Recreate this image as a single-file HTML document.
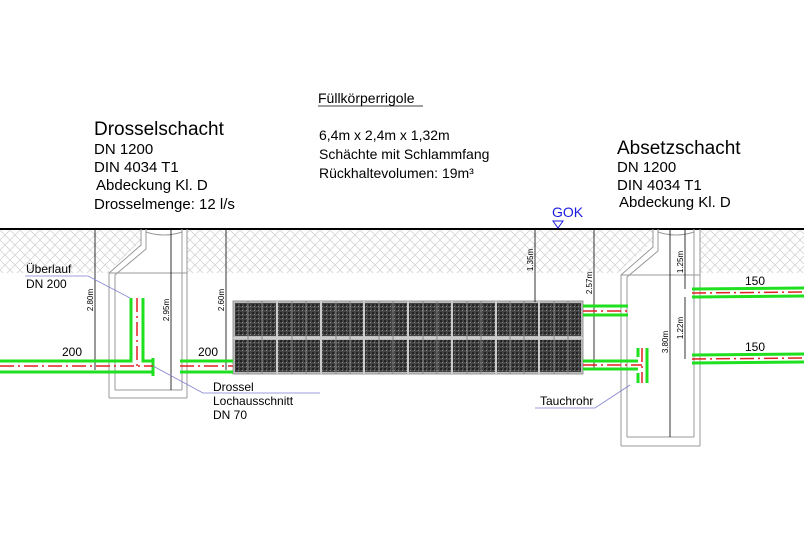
<!DOCTYPE html>
<html><head><meta charset="utf-8"><style>
html,body{margin:0;padding:0;background:#fff;}
svg{display:block;font-family:"Liberation Sans",Arial,sans-serif;}
</style></head><body>
<svg width="804" height="533" viewBox="0 0 804 533" xmlns="http://www.w3.org/2000/svg">
<defs>
<pattern id="h" width="10" height="10" patternUnits="userSpaceOnUse">
<path d="M0 0L10 10M10 0L0 10" stroke="#d4d4d4" stroke-width="0.8"/>
</pattern>
<pattern id="m" width="4" height="4" patternUnits="userSpaceOnUse">
<rect width="4" height="4" fill="#444"/><rect width="2" height="2" fill="#222"/><rect x="2" y="2" width="1" height="1" fill="#888"/>
</pattern>
</defs>
<rect x="0" y="229" width="804" height="44" fill="url(#h)"/>
<!-- shaft white areas -->
<path d="M109 273 L109 270 L141 242 L141 229 L187 229 L187 398 L109 398Z" fill="#fff"/>
<path d="M621 275 L621 270 L653 242 L653 229 L700 229 L700 446 L621 446Z" fill="#fff"/>
<line x1="0" y1="229" x2="804" y2="229" stroke="#000" stroke-width="2"/>

<!-- left shaft -->
<g fill="none" stroke="#999" stroke-width="1">
<path d="M109 398 L109 273 L141 245 L141 229"/>
<path d="M115 390 L115 275 L146 249 L146 229"/>
<path d="M187 398 L187 275 M182 390 L182 229 M187 275 L187 229"/>
<line x1="109" y1="398" x2="187" y2="398"/><line x1="115" y1="390" x2="182" y2="390"/>
<line x1="109" y1="273" x2="187" y2="273"/>
<path d="M146 232 Q164 238 182 232"/>
</g>
<!-- right shaft -->
<g fill="none" stroke="#999" stroke-width="1">
<path d="M621 446 L621 275 L653 247 L653 229"/>
<path d="M627 437 L627 277 L658 251 L658 229"/>
<path d="M700 446 L700 229 M694 437 L694 229"/>
<line x1="621" y1="446" x2="700" y2="446"/><line x1="627" y1="437" x2="694" y2="437"/>
<line x1="621" y1="275" x2="700" y2="275"/>
<path d="M658 232 Q676 238 694 232"/>
</g>

<!-- block -->
<rect x="233" y="301" width="350" height="73" fill="#bbb" stroke="#999"/>
<g fill="url(#m)">
<rect x="235" y="303" width="346" height="33"/><rect x="235" y="340" width="346" height="32"/>
</g>
<g stroke="#ccc" stroke-width="2">
<line x1="233" y1="338" x2="583" y2="338"/>
<line x1="277" y1="301" x2="277" y2="374"/><line x1="321" y1="301" x2="321" y2="374"/>
<line x1="364" y1="301" x2="364" y2="374"/><line x1="408" y1="301" x2="408" y2="374"/>
<line x1="452" y1="301" x2="452" y2="374"/><line x1="496" y1="301" x2="496" y2="374"/>
<line x1="539" y1="301" x2="539" y2="374"/>
</g>
<g stroke="#888" stroke-width="1">
<line x1="248" y1="301" x2="248" y2="374"/><line x1="262" y1="301" x2="262" y2="374"/>
<line x1="292" y1="301" x2="292" y2="374"/><line x1="306" y1="301" x2="306" y2="374"/>
<line x1="336" y1="301" x2="336" y2="374"/><line x1="350" y1="301" x2="350" y2="374"/>
<line x1="379" y1="301" x2="379" y2="374"/><line x1="393" y1="301" x2="393" y2="374"/>
<line x1="423" y1="301" x2="423" y2="374"/><line x1="437" y1="301" x2="437" y2="374"/>
<line x1="467" y1="301" x2="467" y2="374"/><line x1="481" y1="301" x2="481" y2="374"/>
<line x1="510" y1="301" x2="510" y2="374"/><line x1="524" y1="301" x2="524" y2="374"/>
<line x1="554" y1="301" x2="554" y2="374"/><line x1="568" y1="301" x2="568" y2="374"/>
</g>

<!-- dimension lines -->
<g stroke="#000" stroke-width="0.8">
<line x1="95" y1="229" x2="95" y2="370"/><line x1="171" y1="229" x2="171" y2="390"/>
<line x1="226" y1="229" x2="226" y2="370"/>
<line x1="535" y1="229" x2="535" y2="302"/><line x1="594" y1="229" x2="594" y2="369"/>
<line x1="670" y1="229" x2="670" y2="437"/><line x1="685" y1="229" x2="685" y2="289"/>
<line x1="685" y1="297" x2="685" y2="359"/>
<line x1="590" y1="369" x2="598" y2="369"/>
</g>
<g font-size="8" fill="#000">
<text transform="translate(93,300) rotate(-90)" text-anchor="middle">2.80m</text>
<text transform="translate(169,310) rotate(-90)" text-anchor="middle">2.95m</text>
<text transform="translate(224,300) rotate(-90)" text-anchor="middle">2.60m</text>
<text transform="translate(533,260) rotate(-90)" text-anchor="middle">1.35m</text>
<text transform="translate(592,283) rotate(-90)" text-anchor="middle">2.57m</text>
<text transform="translate(668,342) rotate(-90)" text-anchor="middle">3.80m</text>
<text transform="translate(683,262) rotate(-90)" text-anchor="middle">1.25m</text>
<text transform="translate(683,328) rotate(-90)" text-anchor="middle">1.22m</text>
</g>

<!-- pipes -->
<g stroke="#1fe01f" stroke-width="3" fill="none">
<path d="M0 361 L131 361 L131 298 M143 298 L143 361 L153 361 L153 372 L0 372"/>
<line x1="153" y1="358" x2="153" y2="376"/>
<line x1="180" y1="361" x2="233" y2="361"/><line x1="180" y1="372" x2="233" y2="372"/>
<line x1="583" y1="306" x2="628" y2="306"/><line x1="583" y1="315" x2="628" y2="315"/>
<line x1="583" y1="361" x2="638" y2="361"/><line x1="583" y1="369" x2="638" y2="369"/>
<line x1="638" y1="348" x2="638" y2="357"/><line x1="638" y1="373" x2="638" y2="383"/>
<line x1="647" y1="348" x2="647" y2="383"/>
<line x1="692" y1="289" x2="804" y2="288"/><line x1="692" y1="297" x2="804" y2="296"/>
<line x1="692" y1="355" x2="804" y2="354"/><line x1="692" y1="363" x2="804" y2="362"/>
</g>
<g stroke="#e02020" stroke-width="1.5" stroke-dasharray="14,4,2,4" fill="none">
<line x1="0" y1="366" x2="153" y2="366"/><line x1="137" y1="298" x2="137" y2="366"/>
<line x1="180" y1="366" x2="233" y2="366"/>
<line x1="583" y1="311" x2="628" y2="311"/><line x1="583" y1="365" x2="642" y2="365"/>
<line x1="642" y1="348" x2="642" y2="383"/>
<line x1="692" y1="293" x2="804" y2="292"/><line x1="692" y1="359" x2="804" y2="358"/>
</g>

<!-- leader lines -->
<g stroke="#8080d0" stroke-width="0.8" fill="none">
<path d="M25 276 L88 276 L130 298"/>
<path d="M153 366 L203 393 L320 393"/>
<path d="M535 408 L595 408 L630 385"/>
</g>

<!-- labels -->
<g font-size="12" fill="#000">
<text x="26" y="273">Überlauf</text><text x="26" y="288">DN 200</text>
<text x="62" y="356">200</text><text x="198" y="356">200</text>
<text x="213" y="391">Drossel</text><text x="213" y="405">Lochausschnitt</text><text x="213" y="419">DN 70</text>
<text x="540" y="405">Tauchrohr</text>
<text x="745" y="285">150</text><text x="745" y="351">150</text>
</g>
<text x="552" y="217" font-size="14" fill="#1a1ae0">GOK</text>
<path d="M553 221 L563 221 L558 228Z" fill="none" stroke="#1a1ae0" stroke-width="1"/>

<g fill="#000">
<text x="318" y="103" font-size="14">Füllkörperrigole</text>
<line x1="318" y1="106" x2="423" y2="106" stroke="#000" stroke-width="0.8"/>
<text x="319" y="140" font-size="14">6,4m x 2,4m x 1,32m</text>
<text x="319" y="159" font-size="14">Schächte mit Schlammfang</text>
<text x="319" y="178" font-size="14">Rückhaltevolumen: 19m³</text>
<text x="94" y="135" font-size="19">Drosselschacht</text>
<text x="94" y="154" font-size="15">DN 1200</text>
<text x="94" y="172" font-size="15">DIN 4034 T1</text>
<text x="96" y="190" font-size="15">Abdeckung Kl. D</text>
<text x="94" y="209" font-size="15">Drosselmenge: 12 l/s</text>
<text x="617" y="154" font-size="19">Absetzschacht</text>
<text x="617" y="172" font-size="15">DN 1200</text>
<text x="617" y="190" font-size="15">DIN 4034 T1</text>
<text x="619" y="207" font-size="15">Abdeckung Kl. D</text>
</g>
</svg>
</body></html>
